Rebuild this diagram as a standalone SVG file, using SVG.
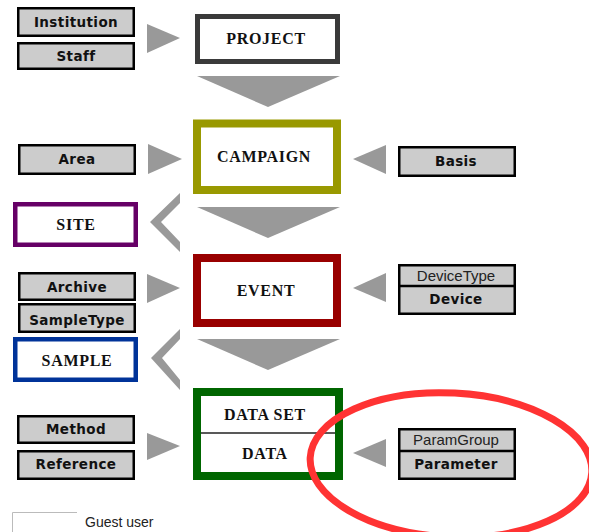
<svg xmlns="http://www.w3.org/2000/svg" width="589" height="532" viewBox="0 0 589 532">
<style>
.g{fill:#cccccc;stroke:#000;stroke-width:2.5}
.main{fill:#fff}
.gt{font-family:"DejaVu Sans",sans-serif;font-weight:bold;font-size:13.5px;fill:#111;text-anchor:middle;letter-spacing:0.4px}
.gr{font-family:"Liberation Sans",sans-serif;font-size:15px;fill:#222;text-anchor:middle}
.mt{font-family:"Liberation Serif",serif;font-weight:bold;font-size:16px;fill:#111;text-anchor:middle;letter-spacing:0.7px}
.arr{fill:#999999}
</style>
<rect width="589" height="532" fill="#fff"/>
<g id="connectors" class="arr">
<polygon points="147,24 180,38 147,53"/>
<polygon points="148,144 182,159 148,174"/>
<polygon points="147,274 180,288 147,303"/>
<polygon points="147,433 180,446 147,460"/>
<polygon points="386,145 353,159 386,174"/>
<polygon points="386,273 353,288 386,302"/>
<polygon points="386,439 353,453 386,467"/>
<polygon points="197,76 340,76 268,107"/>
<polygon points="197,207 340,207 268,238"/>
<polygon points="197,339 340,339 268,370"/>
<polygon points="180,193 150,222 180,252 180,242 161,222 180,203"/>
<polygon points="180,329 151,358 180,390 180,380 162,358 180,339"/>
</g>
<g id="institution"><rect class="g" x="18.25" y="8.25" width="115.5" height="27.5"/><text class="gt" x="76" y="27">Institution</text></g>
<g id="staff"><rect class="g" x="18.25" y="43.25" width="115.5" height="25.5"/><text class="gt" x="76" y="61">Staff</text></g>
<g id="project"><rect class="main" x="197.5" y="16.5" width="140" height="45" stroke="#3a3a3a" stroke-width="5"/><text class="mt" x="266" y="44">PROJECT</text></g>
<g id="area"><rect class="g" x="19.25" y="145.25" width="115.5" height="28.5"/><text class="gt" x="77" y="164">Area</text></g>
<g id="campaign"><rect class="main" x="197" y="123.5" width="140" height="66.5" stroke="#999900" stroke-width="8"/><text class="mt" x="264" y="162">CAMPAIGN</text></g>
<g id="basis"><rect class="g" x="399.25" y="147.25" width="115.5" height="28.5"/><text class="gt" x="456" y="166">Basis</text></g>
<g id="site"><rect class="main" x="15.25" y="204.25" width="120.5" height="40.5" stroke="#660066" stroke-width="4.5"/><text class="mt" x="76" y="230">SITE</text></g>
<g id="archive"><rect class="g" x="19.25" y="273.25" width="115.5" height="26.5"/><text class="gt" x="77" y="292">Archive</text></g>
<g id="sampletype"><rect class="g" x="19.25" y="304.25" width="115.5" height="27.5"/><text class="gt" x="77" y="325">SampleType</text></g>
<g id="event"><rect class="main" x="197" y="258" width="140" height="65" stroke="#990000" stroke-width="8"/><text class="mt" x="266" y="296">EVENT</text></g>
<g id="device"><rect class="g" x="399.25" y="265.25" width="115.5" height="48.5"/><line x1="399" y1="286" x2="515" y2="286" stroke="#000" stroke-width="2.5"/><text class="gr" x="456" y="281">DeviceType</text><text class="gt" x="456" y="304">Device</text></g>
<g id="sample"><rect class="main" x="15.25" y="339.25" width="120.5" height="40.5" stroke="#003399" stroke-width="4.5"/><text class="mt" x="77" y="366">SAMPLE</text></g>
<g id="method"><rect class="g" x="18.25" y="416.25" width="115.5" height="26.5"/><text class="gt" x="76" y="434">Method</text></g>
<g id="reference"><rect class="g" x="18.25" y="451.25" width="115.5" height="27.5"/><text class="gt" x="76" y="469">Reference</text></g>
<g id="dataset"><rect class="main" x="197" y="392" width="142" height="84" stroke="#006600" stroke-width="8"/><line x1="201" y1="433" x2="335" y2="433" stroke="#222" stroke-width="1.5"/><text class="mt" x="265" y="420">DATA SET</text><text class="mt" x="265" y="459">DATA</text></g>
<g id="parameter"><rect class="g" x="399.25" y="429.25" width="115.5" height="49.5"/><line x1="399" y1="451" x2="515" y2="451" stroke="#000" stroke-width="2.5"/><text class="gr" x="456" y="445">ParamGroup</text><text class="gt" x="456" y="469">Parameter</text></g>
<g id="highlight"><ellipse cx="451" cy="465" rx="141" ry="72" fill="none" stroke="#ff3333" stroke-width="7" transform="rotate(3 451 465)"/></g>
<g id="legend"><polyline points="12.5,532 12.5,512.5 77,512.5" fill="none" stroke="#bbbbbb" stroke-width="1"/><text x="85" y="527" font-family="Liberation Sans, sans-serif" font-size="14" fill="#222">Guest user</text></g>
</svg>
